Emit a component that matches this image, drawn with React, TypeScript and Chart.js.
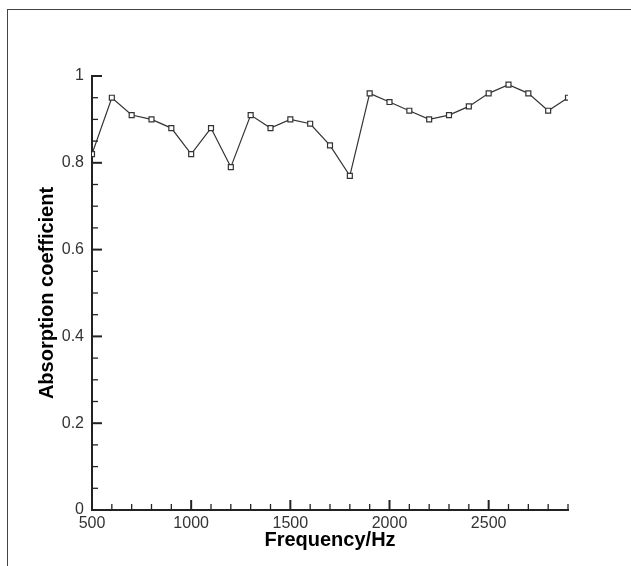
import React, { useEffect, useRef } from "react";
import { Chart, registerables } from "chart.js";

Chart.register(...registerables);

const frequencies = [500, 600, 700, 800, 900, 1000, 1100, 1200, 1300, 1400, 1500, 1600, 1700, 1800, 1900, 2000, 2100, 2200, 2300, 2400, 2500, 2600, 2700, 2800, 2900];
const absorption = [0.82, 0.95, 0.91, 0.90, 0.88, 0.82, 0.88, 0.79, 0.91, 0.88, 0.90, 0.89, 0.84, 0.77, 0.96, 0.94, 0.92, 0.90, 0.91, 0.93, 0.96, 0.98, 0.96, 0.92, 0.95];

const xTickLabels = [500, 1000, 1500, 2000, 2500];
const yTickLabels = [0, 0.2, 0.4, 0.6, 0.8, 1];

const xMin = 500;
const xMax = 2900;
const xMajorStep = 500;
const xMinorStep = 100;
const yMin = 0;
const yMax = 1;
const yMajorStep = 0.2;
const yMinorStep = 0.05;

const xTitle = "Frequency/Hz";
const yTitle = "Absorption coefficient";

const inwardTicks = {
  id: "inwardTicks",
  afterDraw(chart: any) {
    const { ctx, scales } = chart;
    const xs = scales.x;
    const ys = scales.y;
    const x0 = xs.left;
    const y0 = ys.bottom;
    ctx.save();
    ctx.strokeStyle = "#222";
    const nx = Math.round((xMax - xMin) / xMinorStep);
    for (let i = 0; i <= nx; i++) {
      const v = xMin + i * xMinorStep;
      const major = Math.abs(v % xMajorStep) < 1e-6;
      const px = xs.getPixelForValue(v);
      ctx.lineWidth = major ? 2 : 1.3;
      ctx.beginPath();
      ctx.moveTo(px, y0);
      ctx.lineTo(px, y0 - (major ? 10 : 6));
      ctx.stroke();
    }
    const ny = Math.round((yMax - yMin) / yMinorStep);
    const per = Math.round(yMajorStep / yMinorStep);
    for (let i = 0; i <= ny; i++) {
      const v = yMin + i * yMinorStep;
      const major = i % per === 0;
      const py = ys.getPixelForValue(v);
      ctx.lineWidth = major ? 2 : 1.3;
      ctx.beginPath();
      ctx.moveTo(x0, py);
      ctx.lineTo(x0 + (major ? 10 : 6), py);
      ctx.stroke();
    }
    ctx.restore();
  },
};

const labelFont = { family: "Liberation Sans, Arial, sans-serif", size: 16 };
const titleFont = { family: "Liberation Sans, Arial, sans-serif", size: 20, weight: "bold" as const };

export default function App() {
  const ref = useRef<HTMLCanvasElement | null>(null);

  useEffect(() => {
    if (!ref.current) return;
    const chart = new Chart(ref.current, {
      type: "line",
      data: {
        datasets: [
          {
            data: frequencies.map((f, i) => ({ x: f, y: absorption[i] })),
            borderColor: "#333",
            borderWidth: 1.2,
            pointStyle: "rect",
            pointRadius: 3.5,
            pointBorderWidth: 1.2,
            pointBorderColor: "#333",
            pointBackgroundColor: "#fff",
            tension: 0,
            fill: false,
          },
        ],
      },
      options: {
        responsive: false,
        animation: false,
        events: [],
        layout: { padding: { left: 31, top: 76, right: 63, bottom: 0 } },
        plugins: {
          legend: { display: false },
          tooltip: { enabled: false },
        },
        scales: {
          x: {
            type: "linear",
            min: xMin,
            max: xMax,
            grid: { display: false, drawTicks: false },
            border: { display: true, color: "#222", width: 2 },
            afterBuildTicks: (s: any) => {
              s.ticks = xTickLabels.map((v) => ({ value: v }));
            },
            ticks: {
              autoSkip: false,
              maxRotation: 0,
              minRotation: 0,
              padding: 4,
              color: "#333",
              font: labelFont,
              callback: (v: any) => String(v),
            },
            title: {
              display: true,
              text: xTitle,
              color: "#000",
              font: titleFont,
              padding: { top: 0, bottom: 14 },
            },
            afterFit: (s: any) => {
              s.height = 56;
            },
          },
          y: {
            type: "linear",
            min: yMin,
            max: yMax,
            grid: { display: false, drawTicks: false },
            border: { display: true, color: "#222", width: 2 },
            afterBuildTicks: (s: any) => {
              s.ticks = yTickLabels.map((v) => ({ value: v }));
            },
            ticks: {
              autoSkip: false,
              padding: 8,
              color: "#333",
              font: labelFont,
              callback: (v: any) => String(v),
            },
            title: {
              display: true,
              text: yTitle,
              color: "#000",
              font: titleFont,
              padding: { top: 4, bottom: 4 },
            },
            afterFit: (s: any) => {
              s.width = 61;
            },
          },
        },
      },
      plugins: [inwardTicks],
    });
    return () => chart.destroy();
  }, []);

  return (
    <div style={{ position: "absolute", left: 0, top: 0, width: 631, height: 566, background: "#fff", overflow: "hidden" }}>
      <div
        style={{
          position: "absolute",
          left: 7,
          top: 9,
          width: 640,
          height: 600,
          borderTop: "1px solid #444",
          borderLeft: "1px solid #444",
        }}
      />
      <canvas ref={ref} width={631} height={566} style={{ position: "absolute", left: 0, top: 0 }} />
    </div>
  );
}
